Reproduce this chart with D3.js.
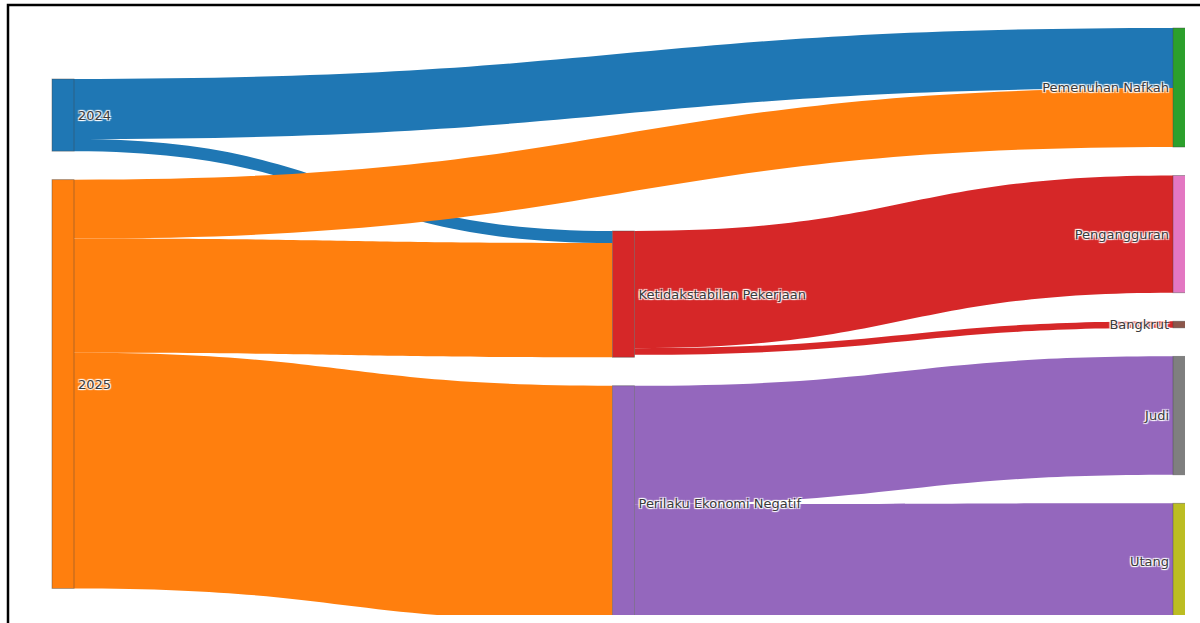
<!DOCTYPE html>
<html><head><meta charset="utf-8">
<script src="https://cdn.jsdelivr.net/npm/d3@7"></script>
<style>
html,body{margin:0;padding:0;background:#fff;overflow:hidden}
svg text{font-family:"DejaVu Sans",Verdana,sans-serif;font-size:13px;fill:#3a3a3a;
text-shadow:1px 1px 1px #fff,-1px -1px 1px #fff,1px -1px 1px #fff,-1px 1px 1px #fff}
</style></head><body>
<svg id="c" width="1200" height="623"></svg>
<script>
// ---- data ----
const nodeNames = ["2024","2025","Ketidakstabilan Pekerjaan","Perilaku Ekonomi Negatif","Pemenuhan Nafkah","Pengangguran","Bangkrut","Judi","Utang"];
const nodeColumns = [0,0,1,1,2,2,2,2,2];
const nodeColors = ["#1f77b4","#ff7f0e","#d62728","#9467bd","#2ca02c","#e377c2","#8c564b","#7f7f7f","#bcbd22"];
const linkSources = [0,0,1,1,1,2,2,3,3];
const linkTargets = [4,2,4,2,3,5,6,7,8];
const linkValues  = [10,2,9.8,19,39.2,19.5,1.1,19.7,19.5];

// ---- layout config ----
const W = 1200, H = 623;
const nodeW = 22, pad = 28.5;
const colTop = [79, 231, 28];
const plotTop = 28, plotBottom = 620.5;

const svg = d3.select("#c");
svg.append("rect").attr("width",W).attr("height",H).attr("fill","#fff");
const defs = svg.append("defs");
defs.append("clipPath").attr("id","clip").append("rect")
  .attr("x",0).attr("y",0).attr("width",1185).attr("height",615);

const nodes = nodeNames.map((n,i)=>({name:n,col:nodeColumns[i],color:nodeColors[i],inL:[],outL:[]}));
const links = linkValues.map((v,i)=>({s:nodes[linkSources[i]],t:nodes[linkTargets[i]],value:v}));
links.forEach(l=>{l.s.outL.push(l);l.t.inL.push(l);});
nodes.forEach(n=>{n.value=Math.max(d3.sum(n.inL,l=>l.value),d3.sum(n.outL,l=>l.value));});

const cols = d3.groups(nodes,n=>n.col).sort((a,b)=>a[0]-b[0]).map(g=>g[1]);
const biggest = cols.reduce((a,b)=>b.length>a.length?b:a);
const vScale = d3.scaleLinear().domain([0,d3.sum(biggest,n=>n.value)])
  .range([0,(plotBottom-plotTop)-pad*(biggest.length-1)]);
const xScale = d3.scalePoint().domain([0,1,2]).range([52,1173]);

cols.forEach((col,ci)=>{
  let y = colTop[ci];
  col.forEach(n=>{
    n.x0 = xScale(n.col); n.x1 = n.x0+nodeW;
    n.y0 = y; n.y1 = y+vScale(n.value);
    y = n.y1+pad;
  });
});
nodes.forEach(n=>{
  let y = n.y0;
  n.outL.sort((a,b)=>a.t.y0-b.t.y0).forEach(l=>{l.sy=y; l.w=vScale(l.value); y+=l.w;});
  y = n.y0;
  n.inL.sort((a,b)=>a.s.y0-b.s.y0).forEach(l=>{l.ty=y; y+=vScale(l.value);});
});

const g = svg.append("g").attr("clip-path","url(#clip)");
function linkPath(l){
  const x0=l.s.x1, x1=l.t.x0, xi=d3.interpolateNumber(x0,x1), c=xi(0.5);
  const p=d3.path();
  p.moveTo(x0,l.sy);
  p.bezierCurveTo(c,l.sy,c,l.ty,x1,l.ty);
  p.lineTo(x1,l.ty+l.w);
  p.bezierCurveTo(c,l.ty+l.w,c,l.sy+l.w,x0,l.sy+l.w);
  p.closePath();
  return p.toString();
}
g.append("g").selectAll("path").data(links).join("path")
  .attr("d",linkPath).attr("fill",d=>d.s.color).attr("stroke","none");
g.append("g").selectAll("rect").data(nodes).join("rect")
  .attr("x",d=>d.x0).attr("y",d=>d.y0).attr("width",nodeW).attr("height",d=>Math.max(1,d.y1-d.y0))
  .attr("fill",d=>d.color).attr("stroke","#444").attr("stroke-opacity",0.5).attr("stroke-width",0.8);
g.append("g").selectAll("text").data(nodes).join("text")
  .attr("x",d=>d.col<2?d.x1+4:d.x0-4)
  .attr("y",d=>(d.y0+d.y1)/2).attr("dy","0.35em")
  .attr("text-anchor",d=>d.col<2?"start":"end")
  .text(d=>d.name);

// frame
svg.append("rect").attr("x",8).attr("y",5).attr("width",1400).attr("height",800)
  .attr("fill","none").attr("stroke","#000").attr("stroke-width",2.5);
</script></body></html>
